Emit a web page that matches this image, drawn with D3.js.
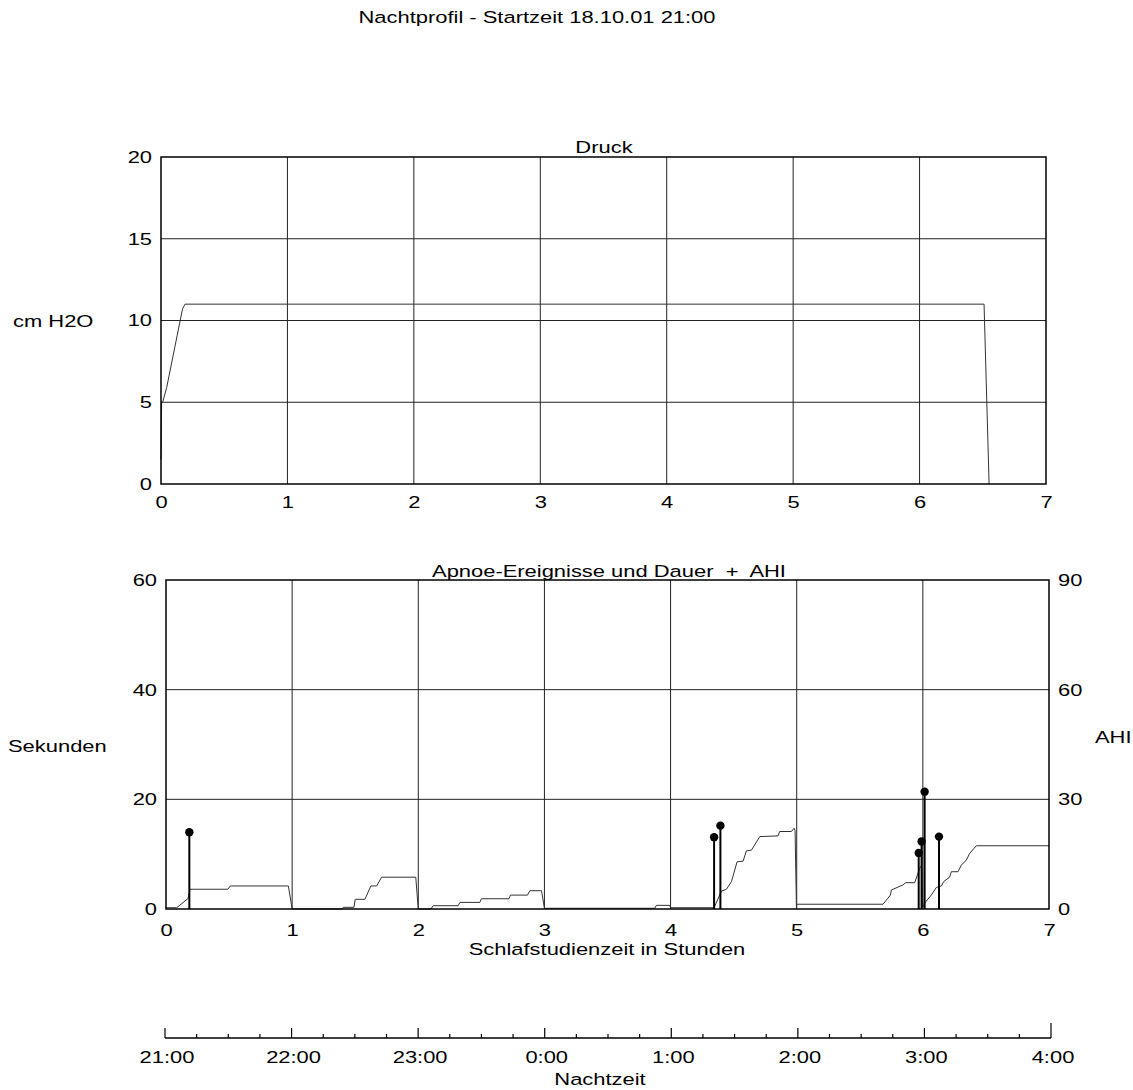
<!DOCTYPE html>
<html>
<head>
<meta charset="utf-8">
<script src="https://cdn.jsdelivr.net/npm/d3@7"></script>
<style>
body { margin: 0; background: #fff; }
svg { font-family: "Liberation Sans", Arial, sans-serif; }
.frame { fill: none; stroke: #000; stroke-width: 1.5; }
.grid line { stroke: #222; stroke-width: 1; }
.lbl { font-size: 17px; fill: #000; white-space: pre; }
</style>
</head>
<body>
<script>
//chart data
var hourTicks = [0, 1, 2, 3, 4, 5, 6, 7];
var pressureTicks = [0, 5, 10, 15, 20];
var secondTicks = [0, 20, 40, 60];
var ahiTicks = [0, 30, 60, 90];

//Druck (cm H2O) over hours
var pressureHours = [0, 0.005, 0.013, 0.045, 0.17, 0.19, 6.51, 6.55];
var pressureValues = [1.5, 5, 5, 5.9, 10.7, 11, 11, 0];

//AHI running line (right axis)
var ahiHours = [0, 0.085, 0.175, 0.19, 0.49, 0.51, 0.97, 1.0,
    1.4, 1.405, 1.49, 1.5, 1.577, 1.624, 1.67, 1.709, 1.98, 2.0,
    2.1, 2.118, 2.316, 2.33, 2.488, 2.5, 2.718, 2.731, 2.866, 2.884, 2.977, 3.0,
    3.875, 3.888, 3.994, 4.0,
    4.345, 4.403, 4.443, 4.483, 4.527, 4.575, 4.601, 4.641, 4.707, 4.852, 4.865, 4.958, 4.979, 4.987, 4.998,
    5.0, 5.684, 5.743, 5.75, 5.843, 5.864, 5.935, 5.975, 5.99, 6.0,
    6.014, 6.067, 6.107, 6.147, 6.165, 6.212, 6.226, 6.279, 6.305, 6.345, 6.371, 6.424, 7.0];
var ahiValues = [0.35, 0.35, 2.9, 5.4, 5.4, 6.3, 6.3, 0,
    0, 0.46, 0.46, 2.65, 2.65, 6.3, 6.3, 8.7, 8.7, 0,
    0, 0.9, 0.9, 1.8, 1.8, 2.8, 2.8, 3.8, 3.8, 5.0, 5.0, 0.2,
    0.2, 1.0, 1.0, 0.35,
    0.35, 4.9, 5.4, 7.5, 12.9, 13.1, 15.9, 16.1, 19.8, 20, 21.2, 21.2, 22.1, 21.5, 0,
    1.3, 1.3, 3.8, 5.2, 6.6, 7.2, 7.2, 11.1, 12, 0.5,
    1.6, 3.8, 5.9, 6.3, 7.5, 8.7, 10.2, 10.2, 12.0, 13.4, 15.2, 17.3, 17.3];

//apnoe events: time (hours) and duration (seconds)
var eventHours = [0.185, 4.345, 4.395, 5.967, 5.99, 6.014, 6.128];
var eventSeconds = [14, 13.1, 15.2, 10.2, 12.3, 21.4, 13.2];

//clock axis range
var clockStart = new Date(2001, 9, 18, 21, 0);
var clockEnd = new Date(2001, 9, 19, 4, 0);

var K = 1.29; //horizontal stretch of the scanned font

//widen text horizontally around its anchor
function widen(sel){
    sel.each(function(){
        var t = d3.select(this);
        var x = +t.attr("x") || 0;
        t.attr("x", x / K).attr("transform", "scale(" + K + ",1)");
    });
}

function label(parent, x, y, txt, anchor){
    var t = parent.append("text")
        .attr("class", "lbl")
        .attr("x", x).attr("y", y)
        .attr("text-anchor", anchor || "start")
        .text(txt);
    widen(t);
    return t;
}

function styleAxis(g){
    g.select(".domain").remove();
    g.selectAll("line").remove();
    g.selectAll("text").attr("class", "lbl");
    g.attr("font-family", null).attr("font-size", null);
}

var svg = d3.select("body").append("svg")
    .attr("width", 1133)
    .attr("height", 1090);

//page title
label(svg, 537, 23, "Nachtprofil - Startzeit 18.10.01 21:00", "middle");

//---------- top chart: Druck ----------
var x1 = d3.scaleLinear().domain([0, 7]).range([161, 1046]);
var y1 = d3.scaleLinear().domain([0, 20]).range([484, 157]);

var g1 = svg.append("g");
var grid1 = g1.append("g").attr("class", "grid");

grid1.selectAll("line.v").data(hourTicks.slice(1, -1)).enter().append("line")
    .attr("class", "v")
    .attr("x1", d => x1(d)).attr("x2", d => x1(d))
    .attr("y1", y1(20)).attr("y2", y1(0));
grid1.selectAll("line.h").data(pressureTicks.slice(1, -1)).enter().append("line")
    .attr("class", "h")
    .attr("x1", x1(0)).attr("x2", x1(7))
    .attr("y1", d => y1(d)).attr("y2", d => y1(d));

var pressureLine = d3.line()
    .x((d, i) => x1(pressureHours[i]))
    .y(d => y1(d));

g1.append("path")
    .datum(pressureValues)
    .attr("d", pressureLine)
    .attr("fill", "none")
    .attr("stroke", "#333")
    .attr("stroke-width", 1);

g1.append("rect").attr("class", "frame")
    .attr("x", x1(0)).attr("y", y1(20))
    .attr("width", x1(7) - x1(0)).attr("height", y1(0) - y1(20));

//axes
var yAxis1 = d3.axisLeft(y1).tickValues(pressureTicks).tickSize(0).tickPadding(9);
var ya1 = g1.append("g").attr("transform", "translate(" + x1(0) + ",0)").call(yAxis1);
styleAxis(ya1);
widen(ya1.selectAll("text"));

var xAxis1 = d3.axisBottom(x1).tickValues(hourTicks).tickFormat(d3.format("d")).tickSize(0);
var xa1 = g1.append("g").attr("transform", "translate(0," + y1(0) + ")").call(xAxis1);
styleAxis(xa1);
xa1.selectAll("text").attr("y", 24).attr("dy", 0);
widen(xa1.selectAll("text"));

label(g1, 604, 153, "Druck", "middle");
label(g1, 13, 327, "cm H2O");

//---------- bottom chart: Apnoe + AHI ----------
var x2 = d3.scaleLinear().domain([0, 7]).range([166, 1049]);
var y2 = d3.scaleLinear().domain([0, 60]).range([909, 580]);
var y2r = d3.scaleLinear().domain([0, 90]).range([909, 580]);

var g2 = svg.append("g");

var grid2 = g2.append("g").attr("class", "grid");
grid2.selectAll("line.v").data(hourTicks.slice(1, -1)).enter().append("line")
    .attr("class", "v")
    .attr("x1", d => x2(d)).attr("x2", d => x2(d))
    .attr("y1", y2(60)).attr("y2", y2(0));
grid2.selectAll("line.h").data(secondTicks.slice(1, -1)).enter().append("line")
    .attr("class", "h")
    .attr("x1", x2(0)).attr("x2", x2(7))
    .attr("y1", d => y2(d)).attr("y2", d => y2(d));

var ahiLine = d3.line()
    .x((d, i) => x2(ahiHours[i]))
    .y(d => y2r(d));

g2.append("path")
    .datum(ahiValues)
    .attr("d", ahiLine)
    .attr("fill", "none")
    .attr("stroke", "#333")
    .attr("stroke-width", 1);

//event stems and dots
var events = eventHours.map((h, i) => ({h: h, s: eventSeconds[i]}));
g2.selectAll("line.stem").data(events).enter().append("line")
    .attr("class", "stem")
    .attr("x1", d => x2(d.h)).attr("x2", d => x2(d.h))
    .attr("y1", y2(0)).attr("y2", d => y2(d.s))
    .attr("stroke", "#000").attr("stroke-width", 2);
g2.selectAll("circle.dot").data(events).enter().append("circle")
    .attr("class", "dot")
    .attr("cx", d => x2(d.h)).attr("cy", d => y2(d.s))
    .attr("r", 4.2).attr("fill", "#000");

g2.append("rect").attr("class", "frame")
    .attr("x", x2(0)).attr("y", y2(60))
    .attr("width", x2(7) - x2(0)).attr("height", y2(0) - y2(60));

var yAxis2 = d3.axisLeft(y2).tickValues(secondTicks).tickSize(0).tickPadding(9);
var ya2 = g2.append("g").attr("transform", "translate(" + x2(0) + ",0)").call(yAxis2);
styleAxis(ya2);
widen(ya2.selectAll("text"));

var yAxis2r = d3.axisRight(y2r).tickValues(ahiTicks).tickSize(0).tickPadding(9);
var ya2r = g2.append("g").attr("transform", "translate(" + x2(7) + ",0)").call(yAxis2r);
styleAxis(ya2r);
widen(ya2r.selectAll("text"));

var xAxis2 = d3.axisBottom(x2).tickValues(hourTicks).tickFormat(d3.format("d")).tickSize(0);
var xa2 = g2.append("g").attr("transform", "translate(0," + y2(0) + ")").call(xAxis2);
styleAxis(xa2);
xa2.selectAll("text").attr("y", 27).attr("dy", 0);
widen(xa2.selectAll("text"));

label(g2, 609, 577, "Apnoe-Ereignisse und Dauer  +  AHI", "middle");
label(g2, 607, 955, "Schlafstudienzeit in Stunden", "middle");
label(g2, 8, 752, "Sekunden");
label(g2, 1095, 743, "AHI");

//---------- clock axis: Nachtzeit ----------
var xt = d3.scaleTime().domain([clockStart, clockEnd]).range([165, 1051]);
var axisY = 1038;
var g3 = svg.append("g");

g3.append("line")
    .attr("x1", xt.range()[0]).attr("x2", xt.range()[1])
    .attr("y1", axisY).attr("y2", axisY)
    .attr("stroke", "#000").attr("stroke-width", 1.5);

var minorTicks = d3.timeMinute.every(15).range(clockStart, d3.timeMinute.offset(clockEnd, 1));
g3.selectAll("line.tick").data(minorTicks).enter().append("line")
    .attr("class", "tick")
    .attr("x1", d => xt(d)).attr("x2", d => xt(d))
    .attr("y1", axisY)
    .attr("y2", function(d){
        if (+d === +clockEnd) return axisY - 15;
        return d.getMinutes() === 0 ? axisY - 10 : axisY - 4;
    })
    .attr("stroke", "#000").attr("stroke-width", 1.2);

var hourLabels = d3.timeHour.every(1).range(clockStart, d3.timeMinute.offset(clockEnd, 1));
hourLabels.forEach(function(d){
    label(g3, xt(d) + 2, 1063, d3.timeFormat("%-H:%M")(d), "middle");
});

label(g3, 600, 1085, "Nachtzeit", "middle");
</script>
</body>
</html>
